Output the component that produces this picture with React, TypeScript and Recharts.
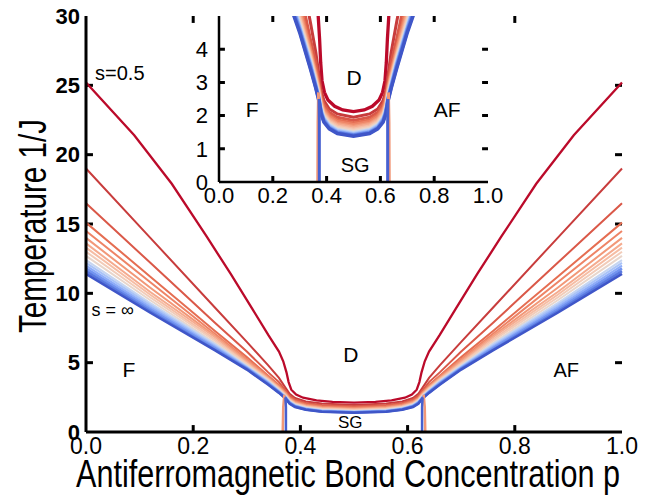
import React from 'react';
import { LineChart, Line, XAxis, YAxis, ReferenceDot, CartesianGrid } from 'recharts';

const FONT = '"Liberation Sans", Arial, Helvetica, sans-serif';

const P_TICKS = [0, 0.2, 0.4, 0.6, 0.8, 1.0];
const T_TICKS_MAIN = [0, 5, 10, 15, 20, 25, 30];
const T_TICKS_INSET = [0, 1, 2, 3, 4];

// s = 0.5 boundary, left half only (the diagram is symmetric around p = 0.5)
const P_RED = [0, 0.09, 0.16, 0.225, 0.27, 0.31, 0.34, 0.36, 0.368, 0.374, 0.378, 0.383, 0.392, 0.405, 0.43, 0.46, 0.5];
const T_RED = [25.2, 21.4, 17.9, 14.1, 11.4, 8.9, 7.0, 5.8, 5.1, 4.3, 3.6, 3.05, 2.7, 2.47, 2.28, 2.17, 2.12];

// larger s values share one p grid
const P_LEFT = [0, 0.12, 0.24, 0.3, 0.34, 0.36, 0.372, 0.38, 0.39, 0.41, 0.44, 0.5];
const T_S1 = [19.0, 14.0, 9.0, 6.5, 4.8, 3.9, 3.2, 2.75, 2.45, 2.2, 2.05, 1.95];
const T_S2 = [16.5, 12.2, 7.9, 5.8, 4.3, 3.6, 3.0, 2.6, 2.35, 2.1, 1.95, 1.85];
const T_S3 = [15.1, 11.2, 7.3, 5.4, 4.05, 3.4, 2.9, 2.5, 2.25, 2.02, 1.87, 1.78];
const T_S4 = [14.5, 10.8, 7.1, 5.25, 4.0, 3.3, 2.85, 2.45, 2.2, 1.97, 1.82, 1.73];
const T_S5 = [14.0, 10.4, 6.95, 5.15, 3.9, 3.25, 2.8, 2.4, 2.15, 1.92, 1.77, 1.68];
const T_S6 = [13.6, 10.1, 6.85, 5.05, 3.85, 3.2, 2.75, 2.36, 2.1, 1.88, 1.73, 1.64];
const T_S7 = [13.3, 9.9, 6.7, 4.95, 3.8, 3.15, 2.7, 2.32, 2.06, 1.84, 1.69, 1.6];
const T_S8 = [13.0, 9.7, 6.6, 4.9, 3.75, 3.1, 2.66, 2.28, 2.02, 1.8, 1.65, 1.56];
const T_S9 = [12.7, 9.5, 6.45, 4.8, 3.7, 3.05, 2.62, 2.24, 1.98, 1.76, 1.61, 1.52];
const T_S10 = [12.4, 9.3, 6.35, 4.75, 3.65, 3.0, 2.58, 2.2, 1.95, 1.73, 1.58, 1.49];
const T_S11 = [12.2, 9.15, 6.25, 4.7, 3.6, 2.95, 2.55, 2.17, 1.92, 1.7, 1.55, 1.46];
const T_S12 = [12.0, 9.0, 6.15, 4.65, 3.55, 2.92, 2.52, 2.14, 1.89, 1.67, 1.52, 1.44];
const T_S13 = [11.8, 8.85, 6.05, 4.6, 3.5, 2.88, 2.48, 2.1, 1.86, 1.64, 1.5, 1.42];
const T_S14 = [11.6, 8.7, 5.95, 4.55, 3.45, 2.85, 2.45, 2.07, 1.83, 1.62, 1.48, 1.4];
const T_S15 = [11.4, 8.6, 5.9, 4.5, 3.4, 2.82, 2.42, 2.04, 1.8, 1.6, 1.46, 1.38];

// spin glass boundary (vertical line near p = 0.37)
const P_SG_BLUE = [0.373, 0.373, 0.372];
const T_SG_BLUE = [0, 1.8, 2.5];
const P_SG_RED = [0.367, 0.368, 0.37];
const T_SG_RED = [0, 1.8, 2.7];

const S_COLORS = [
  '#bb0a2a', '#c83c3c', '#da5848', '#e56e52', '#ee8466', '#f29878', '#f5ab8f', '#f6bda4',
  '#f2ccb9', '#e8d6cc', '#c6d5f0', '#a9c3f8', '#8eadf9', '#7294f0', '#5878df', '#3f56c8',
];
const T_CURVES = [T_RED, T_S1, T_S2, T_S3, T_S4, T_S5, T_S6, T_S7, T_S8, T_S9, T_S10, T_S11, T_S12, T_S13, T_S14, T_S15];

const mirrored = (ps: number[], ts: number[]) => {
  const left = ps.map((p, i) => ({ p, T: ts[i] }));
  const right = left.slice(0, -1).reverse().map(d => ({ p: +(1 - d.p).toFixed(4), T: d.T }));
  return [...left, ...right];
};

const curves = T_CURVES.map((ts, i) => ({
  key: `s${i}`,
  color: S_COLORS[i],
  data: mirrored(i === 0 ? P_RED : P_LEFT, ts),
}));

const sgLines = [
  { key: 'sgrL', color: '#f29878', data: P_SG_RED.map((p, i) => ({ p, T: T_SG_RED[i] })) },
  { key: 'sgrR', color: '#f29878', data: P_SG_RED.map((p, i) => ({ p: +(1 - p).toFixed(4), T: T_SG_RED[i] })) },
  { key: 'sgbL', color: '#4760d0', data: P_SG_BLUE.map((p, i) => ({ p, T: T_SG_BLUE[i] })) },
  { key: 'sgbR', color: '#4760d0', data: P_SG_BLUE.map((p, i) => ({ p: +(1 - p).toFixed(4), T: T_SG_BLUE[i] })) },
];

const XLabel = () => (
  <text transform="translate(348,487) scale(0.805,1)" textAnchor="middle" fontSize={38} fontFamily={FONT} fill="#000">
    Antiferromagnetic Bond Concentration p
  </text>
);

const YLabel = () => (
  <text transform="translate(46,226) rotate(-90) scale(0.78,1)" textAnchor="middle" fontSize={38} fontFamily={FONT} fill="#000">
    Temperature 1/J
  </text>
);

const fmt1 = (v: number) => v.toFixed(1);

const note = (value: string, size: number) => ({
  value,
  position: 'center' as const,
  fill: '#000',
  fontSize: size,
  fontFamily: FONT,
});

const axisLine = (w: number) => ({ stroke: '#000', strokeWidth: w });

// inward tick marks on all four sides, as short two-point lines (lengths in data units)
const frameTicks = (prefix: string, xTicks: number[], yTicks: number[], yMax: number, dx: number, dy: number) => {
  const segs = [
    ...xTicks.map(p => ({ k: `b${p}`, d: [{ p, T: 0 }, { p, T: dy }] })),
    ...xTicks.map(p => ({ k: `t${p}`, d: [{ p, T: yMax }, { p, T: yMax - dy }] })),
    ...yTicks.map(t => ({ k: `l${t}`, d: [{ p: 0, T: t }, { p: dx, T: t }] })),
    ...yTicks.map(t => ({ k: `r${t}`, d: [{ p: 1, T: t }, { p: 1 - dx, T: t }] })),
  ];
  return segs.map(s => (
    <Line
      key={`${prefix}${s.k}`}
      data={s.d}
      dataKey="T"
      type="linear"
      stroke="#000"
      strokeWidth={3}
      strokeLinecap="butt"
      dot={false}
      activeDot={false}
      isAnimationActive={false}
    />
  ));
};

const renderLines = (width: number, sgWidth: number) => [
  ...curves.map((c, i) => (
    <Line
      key={c.key}
      data={c.data}
      dataKey="T"
      type="linear"
      stroke={c.color}
      strokeWidth={i === 0 ? width + 0.3 : i >= 13 ? width + 0.5 : width}
      dot={false}
      activeDot={false}
      isAnimationActive={false}
    />
  )),
  ...sgLines.map(c => (
    <Line
      key={c.key}
      data={c.data}
      dataKey="T"
      type="linear"
      stroke={c.color}
      strokeWidth={sgWidth}
      dot={false}
      activeDot={false}
      isAnimationActive={false}
    />
  )),
];

export default function App() {
  return (
    <div style={{ position: 'absolute', left: 0, top: 0, width: 660, height: 497, background: '#fff' }}>
      <LineChart width={660} height={497} margin={{ top: 16, right: 38, bottom: 0, left: 26 }}>
        <XAxis
          type="number"
          dataKey="p"
          domain={[0, 1]}
          ticks={P_TICKS}
          interval={0}
          tickFormatter={fmt1}
          height={65}
          tickSize={0}
          tickMargin={6}
          tickLine={false}
          axisLine={axisLine(3)}
          tick={{ fill: '#000', fontSize: 23, fontFamily: FONT }}
          label={<XLabel />}
        />
        <XAxis
          xAxisId="top"
          orientation="top"
          type="number"
          dataKey="p"
          domain={[0, 1]}
          allowDataOverflow
          height={0}
          tick={false}
          tickLine={false}
          axisLine={axisLine(3)}
        />
        <YAxis
          type="number"
          domain={[0, 30]}
          ticks={T_TICKS_MAIN}
          interval={0}
          width={60}
          tickSize={0}
          tickMargin={6}
          tickLine={false}
          axisLine={axisLine(3)}
          tick={{ fill: '#000', fontSize: 22, fontWeight: 'bold', fontFamily: FONT }}
          label={<YLabel />}
        />
        <YAxis
          yAxisId="right"
          orientation="right"
          type="number"
          domain={[0, 30]}
          allowDataOverflow
          width={0}
          tick={false}
          tickLine={false}
          axisLine={axisLine(3)}
        />
        {frameTicks('m', P_TICKS.slice(1, -1), T_TICKS_MAIN.slice(1, -1), 30, 0.013, 0.5)}
        {renderLines(2, 2.5)}
        <ReferenceDot x={0.063} y={25.9} r={0} fill="none" stroke="none" label={note('s=0.5', 20)} />
        <ReferenceDot x={0.05} y={8.8} r={0} fill="none" stroke="none" label={note('s = ∞', 18)} />
        <ReferenceDot x={0.08} y={4.47} r={0} fill="none" stroke="none" label={note('F', 21)} />
        <ReferenceDot x={0.494} y={5.55} r={0} fill="none" stroke="none" label={note('D', 21)} />
        <ReferenceDot x={0.493} y={0.72} r={0} fill="none" stroke="none" label={note('SG', 17)} />
        <ReferenceDot x={0.896} y={4.47} r={0} fill="none" stroke="none" label={note('AF', 20)} />
      </LineChart>

      <div style={{ position: 'absolute', left: 180, top: 0 }}>
        <LineChart width={330} height={215} margin={{ top: 16, right: 22, bottom: 0, left: 0 }}>
          <CartesianGrid horizontal={false} vertical={false} fill="#fff" fillOpacity={1} />
          <XAxis
            type="number"
            dataKey="p"
            domain={[0, 1]}
            ticks={P_TICKS}
            interval={0}
            tickFormatter={fmt1}
            height={33}
            tickSize={0}
            tickMargin={5}
            tickLine={false}
            axisLine={axisLine(2.5)}
            tick={{ fill: '#000', fontSize: 22, fontFamily: FONT }}
          />
          <XAxis
            xAxisId="top"
            orientation="top"
            type="number"
            dataKey="p"
            domain={[0, 1]}
            allowDataOverflow
            height={0}
            tick={false}
            tickLine={false}
            axisLine={axisLine(3)}
          />
          <YAxis
            type="number"
            domain={[0, 5]}
            allowDataOverflow
            ticks={T_TICKS_INSET}
            interval={0}
            width={39}
            tickSize={0}
            tickMargin={11}
            tickLine={false}
            axisLine={axisLine(2.5)}
            tick={{ fill: '#000', fontSize: 22, fontFamily: FONT }}
          />
          <YAxis
            yAxisId="right"
            orientation="right"
            type="number"
            domain={[0, 5]}
            allowDataOverflow
            width={0}
            tick={false}
            tickLine={false}
            axisLine={axisLine(2.5)}
          />
          {frameTicks('i', P_TICKS.slice(1, -1), T_TICKS_INSET.slice(1), 5, 0.022, 0.18)}
          {renderLines(3, 3)}
          <ReferenceDot x={0.502} y={3.16} r={0} fill="none" stroke="none" label={note('D', 21)} />
          <ReferenceDot x={0.123} y={2.17} r={0} fill="none" stroke="none" label={note('F', 21)} />
          <ReferenceDot x={0.848} y={2.17} r={0} fill="none" stroke="none" label={note('AF', 21)} />
          <ReferenceDot x={0.506} y={0.51} r={0} fill="none" stroke="none" label={note('SG', 20)} />
        </LineChart>
      </div>
    </div>
  );
}
